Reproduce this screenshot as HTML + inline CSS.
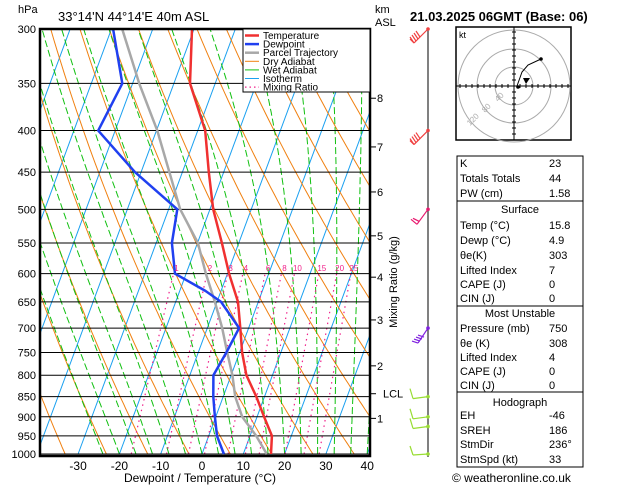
<!DOCTYPE html>
<html><head><meta charset="utf-8"><style>
body{margin:0;background:#fff;}
svg{display:block;font-family:"Liberation Sans",sans-serif;}
</style></head><body>
<svg id="c" width="629" height="486" viewBox="0 0 629 486" xmlns="http://www.w3.org/2000/svg">
<defs><clipPath id="pc"><rect x="40" y="29" width="330" height="427"/></clipPath></defs>
<g id="bg" clip-path="url(#pc)"></g>
<g id="grid"></g>
<g id="series" clip-path="url(#pc)"></g>
<g id="axes"></g>
</svg>
<script>
const pressures=[300,350,400,450,500,550,600,650,700,750,800,850,900,950,1000];
const tempP=[300,350,400,450,500,550,600,650,700,750,800,850,900,950,1000];
const tempV=[-40.5,-36.1,-28.2,-23.6,-19.2,-14.1,-9.6,-4.9,-2.0,0.6,3.7,8.0,11.7,15.3,16.7];
const dewP=[300,350,400,450,500,550,600,630,650,700,750,800,850,900,950,1000];
const dewV=[-59.6,-52.5,-54.1,-41.5,-27.9,-26.2,-22.7,-13.8,-9.0,-2.3,-3.2,-4.3,-2.4,-0.2,2.0,5.3];
const parP=[300,350,400,500,550,600,650,700,750,800,850,900,950,1000];
const parV=[-57.4,-48.4,-39.8,-27.2,-19.9,-15.2,-10.5,-6.4,-3.0,0.3,2.9,6.4,11.5,15.7];
const tempTicks=[-30,-20,-10,0,10,20,30,40];
const mixRatios=[1,2,3,4,6,8,10,15,20,25];
const kmLabels=["8","7","6","5","4","3","2","LCL","1"];
const kmPress=[365,419,476,539,606,684,779,843,904];
const windP=[300,400,500,700,850,900,925,1000];

const NS="http://www.w3.org/2000/svg";
function yOf(p){return 29+425*Math.log(p/300)/Math.log(1000/300);}
function xOf(T,p){return 202+4.13*T+0.37*(454-yOf(p));}
function el(tag,attrs,parent,txt){const e=document.createElementNS(NS,tag);for(const k in attrs)e.setAttribute(k,attrs[k]);if(txt!==undefined)e.textContent=txt;parent.appendChild(e);return e;}
const bg=document.getElementById('bg'),grid=document.getElementById('grid'),series=document.getElementById('series'),axes=document.getElementById('axes'),svg=document.getElementById('c');

// isotherms
for(let T=-120;T<=50;T+=10){
 const l=el('line',{x1:xOf(T,1000),y1:yOf(1000),x2:xOf(T,300),y2:yOf(300),stroke:'#1aa0f0','stroke-width':1},bg);
 
 
}
// dry adiabats
for(let th=230;th<=480;th+=10){
 let d='';for(let p=1000;p>=300;p-=10){const T=th*Math.pow(p/1000,0.286)-273.15;d+=(p==1000?'M':'L')+xOf(T,p).toFixed(1)+' '+yOf(p).toFixed(1);}
 const e=el('path',{d:d,fill:'none',stroke:'#f08010','stroke-width':1},bg);
 
 
}
// wet adiabats
function es(T){return 6.112*Math.exp(17.67*T/(T+243.5));}
for(let tw=-24;tw<=44;tw+=4){
 let T=tw+273.15,d='M'+xOf(tw,1000).toFixed(1)+' '+yOf(1000).toFixed(1);
 for(let p=1000;p>300;p-=5){
  const Tc=T-273.15,e=es(Tc),rs=0.622*e/(p-e);
  const dTdp=(287*T+2.5e6*rs)/(1004+2.5e6*2.5e6*rs*0.622/(287*T*T))/p;
  T-=dTdp*5;d+='L'+xOf(T-273.15,p-5).toFixed(1)+' '+yOf(p-5).toFixed(1);
 }
 const e=el('path',{d:d,fill:'none',stroke:'#10c010','stroke-width':1,'stroke-dasharray':'7,3'},bg);
 
 
}
// mixing ratio
function mrT(w,p){const e=w*p/(622+w);const a=Math.log(e/6.112);return 243.5*a/(17.67-a);}
mixRatios.forEach(w=>{
 const e=el('line',{x1:xOf(mrT(w,1000),1000),y1:yOf(1000),x2:xOf(mrT(w,600),600),y2:yOf(600),stroke:'#f0208a','stroke-width':1.2,'stroke-dasharray':'1.5,4'},bg);
 
 
 const t=el('text',{x:xOf(mrT(w,600),600)+3,y:271,'font-size':8,fill:'#f0208a','text-anchor':'middle'},axes,String(w));
 
 
});
// pressure grid
pressures.forEach(p=>{
 const l=el('line',{x1:40,y1:yOf(p),x2:370,y2:yOf(p),stroke:'#000','stroke-width':1},grid);
 
 
 const t=el('text',{x:36,y:yOf(p)+4,'font-size':11,'text-anchor':'end'},axes,String(p));
 
 
});
// profiles
function prof(P,V,color,w,name){
 let d='';P.forEach((p,i)=>{d+=(i?'L':'M')+xOf(V[i],p).toFixed(1)+' '+yOf(p).toFixed(1);});
 const e=el('path',{d:d,fill:'none',stroke:color,'stroke-width':w,'stroke-linejoin':'round'},series);
 
 
}
prof(parP,parV,'#a8a8a8',2.5,'parcel-trajectory-line');
prof(tempP,tempV,'#f03030',2.5,'temperature-line');
prof(dewP,dewV,'#2040f0',2.5,'dewpoint-line');
// frame
const fr=el('rect',{x:40,y:29,width:330,height:427,fill:'none',stroke:'#000','stroke-width':2.5},axes);


tempTicks.forEach(T=>{
 const t=el('text',{x:xOf(T,1000),y:470,'font-size':12,'text-anchor':'middle'},axes,String(T));
 
 
});
// km axis
kmLabels.forEach((k,i)=>{
 const y=yOf(kmPress[i]);
 const l=el('line',{x1:370,y1:y,x2:376,y2:y,stroke:'#000'},axes);
 
 
 const t=el('text',{x:i==7?383:377,y:y+4,'font-size':11},axes,k);
 
 
});
// wind barbs
const bl=el('line',{x1:428,y1:29,x2:428,y2:457,stroke:'#000'},axes);


const windCol=['#f04040','#f04040','#e8186e','#8020e0','#99dd33','#99dd33','#99dd33','#99dd33'];
windP.forEach((p,i)=>{
 const y=yOf(p),c=windCol[i];
 const g=el('g',{stroke:c,fill:c,'stroke-width':1.2},axes);
 
 
 el('circle',{cx:428,cy:y,r:1.8,stroke:'none'},g);
 if(i<2){el('line',{x1:428,y1:y,x2:414,y2:y+14},g);for(let k=0;k<4;k++)el('line',{x1:414+k*2,y1:y+14-k*2,x2:410+k*2,y2:y+8-k*2},g);el('line',{x1:414,y1:y+14,x2:410,y2:y+10},g);}
 else if(i==2){el('line',{x1:428,y1:y,x2:417,y2:y+15},g);el('line',{x1:417,y1:y+15,x2:411,y2:y+10},g);el('line',{x1:419,y1:y+12,x2:413,y2:y+9},g);}
 else if(i==3){el('line',{x1:428,y1:y,x2:418,y2:y+15},g);for(let k=0;k<4;k++)el('line',{x1:418+k*2,y1:y+15-k*2,x2:412+k*2,y2:y+13-k*2},g);}
 else {el('line',{x1:428,y1:y,x2:413,y2:y+(i==7?1:2)},g);el('line',{x1:413,y1:y+(i==7?1:2),x2:410,y2:y-8},g);}
});
// texts
function txt(x,y,s,size,name,extra){const t=el('text',Object.assign({x:x,y:y,'font-size':size},extra||{}),svg,s);return t;}
txt(18,13,'hPa',11,'pressure-axis-unit');
txt(58,21,"33°14'N  44°14'E  40m  ASL",13,'location-title');
txt(375,13,'km',11,'km-axis-unit');
txt(375,26,'ASL',11,'km-axis-unit-asl');
txt(410,21,'21.03.2025  06GMT  (Base: 06)',13,'date-title',{'font-weight':'bold'});
txt(200,482,'Dewpoint / Temperature (°C)',12,'x-axis-title',{'text-anchor':'middle'});
txt(397,282,'Mixing Ratio (g/kg)',11,'mixing-ratio-axis-title',{'text-anchor':'middle',transform:'rotate(-90 397 282)'});
// legend
const lg=el('g',{},svg);
el('rect',{x:243,y:29,width:127,height:63,fill:'#fff',stroke:'#000'},lg);
const legItems=[['Temperature','#f03030',2.5,''],['Dewpoint','#2040f0',2.5,''],['Parcel Trajectory','#a8a8a8',2.5,''],['Dry Adiabat','#f08010',1,''],['Wet Adiabat','#10c010',1,''],['Isotherm','#1aa0f0',1,''],['Mixing Ratio','#f0208a',1.2,'1.5,3']];
legItems.forEach((it,i)=>{const y=35.5+i*8.6;
 const g=el('g',{},lg);
 el('line',{x1:245,y1:y,x2:259,y2:y,stroke:it[1],'stroke-width':it[2],'stroke-dasharray':it[3]},g);
 el('text',{x:263,y:y+3.5,'font-size':10},g,it[0]);});
// hodograph
const hg=el('g',{},svg);
el('rect',{x:456,y:27,width:115,height:113,fill:'#fff',stroke:'#000','stroke-width':1.5},hg);
[19,37,56].forEach(r=>el('circle',{cx:514,cy:86,r:r,fill:'none',stroke:'#aaa'},hg));
el('line',{x1:456,y1:86,x2:571,y2:86,stroke:'#000'},hg);el('line',{x1:514,y1:27,x2:514,y2:140,stroke:'#000'},hg);
for(let k=-9;k<=9;k++){if(k){el('line',{x1:514+k*6,y1:84,x2:514+k*6,y2:88,stroke:'#000'},hg);el('line',{x1:512,y1:86+k*6,x2:516,y2:86+k*6,stroke:'#000'},hg);}}
el('text',{x:459,y:38,'font-size':9},hg,'kt');
[['40',498,102],['80',485,113],['120',470,126]].forEach(a=>el('text',{x:a[1],y:a[2],'font-size':8,fill:'#aaa',transform:'rotate(-45 '+a[1]+' '+a[2]+')'},hg,a[0]));
el('path',{d:'M517 86 L522 72 L528 65 L541 59',fill:'none',stroke:'#000'},hg);
el('circle',{cx:541,cy:59,r:1.8},hg);el('circle',{cx:518,cy:87,r:1.8},hg);
el('path',{d:'M523 78 L530 78 L526 84 Z'},hg);
// table
const tb=el('g',{'font-size':11},svg);
el('rect',{x:457,y:156,width:126,height:311,fill:'none',stroke:'#000'},tb);
[201,306,392].forEach(y=>el('line',{x1:457,y1:y,x2:583,y2:y,stroke:'#000'},tb));
const rows=[['K','23',167],['Totals Totals','44',182],['PW (cm)','1.58',197],['Temp (°C)','15.8',229],['Dewp (°C)','4.9',244],['θe(K)','303',259],['Lifted Index','7',274],['CAPE (J)','0',288],['CIN (J)','0',302],['Pressure (mb)','750',332],['θe (K)','308',347],['Lifted Index','4',361],['CAPE (J)','0',375],['CIN (J)','0',389],['EH','-46',419],['SREH','186',434],['StmDir','236°',448],['StmSpd (kt)','33',463]];
rows.forEach(r=>{const g=el('g',{},tb);
 el('text',{x:460,y:r[2]},g,r[0]);el('text',{x:549,y:r[2]},g,r[1]);});
[['Surface',213],['Most Unstable',317],['Hodograph',406]].forEach(h=>{const t=el('text',{x:520,y:h[1],'text-anchor':'middle'},tb,h[0]);});
txt(452,482,'© weatheronline.co.uk',12,'copyright-text');
</script>
</body></html>
